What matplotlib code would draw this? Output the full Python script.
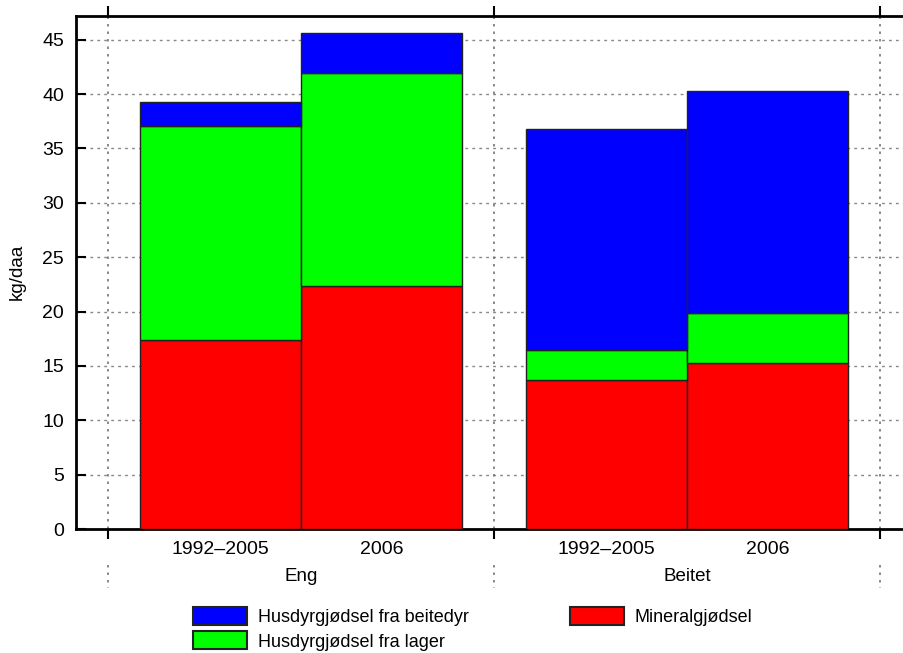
import numpy as np
import matplotlib
matplotlib.use("Agg")
import matplotlib.pyplot as plt
from matplotlib.patches import Patch

plt.rcParams['font.family'] = ['Liberation Sans', 'DejaVu Sans']

# data -------------------------------------------------------------
groups = ['Eng', 'Beitet']
periods = ['1992\u20132005', '2006']
# per bar: Eng 92-05, Eng 2006, Beitet 92-05, Beitet 2006
mineral = [17.4, 22.3, 13.7, 15.3]
lager = [19.7, 19.6, 2.8, 4.6]
beitedyr = [2.2, 3.7, 20.3, 20.4]
series_names = ['Husdyrgjødsel fra beitedyr', 'Husdyrgjødsel fra lager', 'Mineralgjødsel']
yticks = [0, 5, 10, 15, 20, 25, 30, 35, 40, 45]

# figure -----------------------------------------------------------
W, H = 904, 653
fig = plt.figure(figsize=(W / 100, H / 100), dpi=100)
# axes in pixels: left 76, top 15.7, bottom 529, right (cut off) 912
ax = fig.add_axes([76 / W, 1 - 529 / H, (912 - 76) / W, (529 - 15.7) / H])

bw = 5 / 12
x = []
for g in range(len(groups)):
    for i in range(len(periods)):
        x.append(g + 1 / 12 + (i + 0.5) * bw)
x = np.array(x)

mineral = np.array(mineral)
lager = np.array(lager)
beitedyr = np.array(beitedyr)

ec = '#222222'
ax.bar(x, mineral, bw, color='#ff0000', edgecolor=ec, linewidth=1, zorder=3)
ax.bar(x, lager, bw, bottom=mineral, color='#00ff00', edgecolor=ec, linewidth=1, zorder=3)
ax.bar(x, beitedyr, bw, bottom=mineral + lager, color='#0000ff', edgecolor=ec, linewidth=1, zorder=3)

ax.set_xlim(-1 / 12, 2 + 1 / 12)
ax.set_ylim(0, 47.2)

# grid
for yv in yticks[1:]:
    ax.axhline(yv, color='#888888', linestyle=(0, (2, 3)), linewidth=1, zorder=1)
for sep in range(len(groups) + 1):
    ax.axvline(sep, color='#777777', linestyle=(0, (1.5, 3)), linewidth=1.2, zorder=1)
    # small dotted piece between the group labels
    ax.plot([sep, sep], [-0.07, -0.115], transform=ax.get_xaxis_transform(),
            color='#777777', linestyle=(0, (1.5, 3)), linewidth=1.2, clip_on=False)

# spines
for s in ['left', 'top', 'bottom', 'right']:
    ax.spines[s].set_linewidth(2)

# y axis
ax.set_yticks(yticks)
ax.tick_params(axis='y', direction='in', length=7, width=1.5, pad=8.5, labelsize=14)

# x axis: major ticks at the separators, labels at the bar centres
ax.set_xticks(range(len(groups) + 1))
ax.set_xticklabels([])
ax.tick_params(axis='x', which='major', direction='out', length=7, width=1.5,
               top=True, bottom=True)
ax.set_xticks(x, minor=True)
ax.set_xticklabels(periods * len(groups), minor=True)
ax.tick_params(axis='x', which='minor', length=0, pad=8.5, labelsize=14)

for g, name in enumerate(groups):
    ax.text(g + 0.5, -0.0935, name, transform=ax.get_xaxis_transform(),
            ha='center', va='center', fontsize=13.5)

fig.text(17 / W, 1 - 272 / H, 'kg/daa', rotation=90, ha='center', va='center', fontsize=13.5)

handles = [Patch(facecolor='#0000ff', edgecolor=ec, linewidth=1.5),
           Patch(facecolor='#00ff00', edgecolor=ec, linewidth=1.5),
           Patch(facecolor='#ff0000', edgecolor=ec, linewidth=1.5)]
fig.legend(handles, series_names, ncol=2, loc='upper left',
           bbox_to_anchor=(193 / W, 1 - 607 / H), frameon=False,
           borderpad=0, borderaxespad=0, fontsize=13,
           handlelength=3.0, handleheight=1.15, handletextpad=0.6,
           labelspacing=0.3, columnspacing=5.6)

fig.savefig('out.png', dpi=100)
